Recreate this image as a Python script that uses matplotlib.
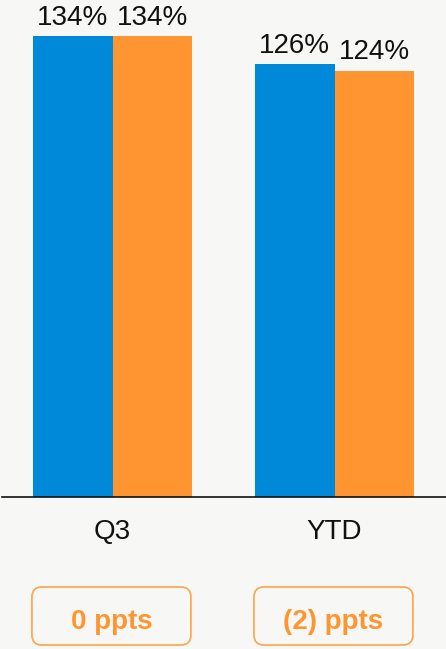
import matplotlib
matplotlib.use("Agg")
import matplotlib.pyplot as plt
from matplotlib.patches import FancyBboxPatch
from matplotlib.transforms import IdentityTransform

# Data
categories = ["Q3", "YTD"]
series_a = [134, 126]
series_b = [134, 124]
change_labels = ["0 ppts", "(2) ppts"]

BG = "#F7F7F5"
BLUE = "#0088D9"
ORANGE = "#FF9530"
EDGE = "#FFA347"

plt.rcParams["font.family"] = ["Liberation Sans", "DejaVu Sans"]

W, H = 446, 649
fig = plt.figure(figsize=(W / 100, H / 100), dpi=100, facecolor=BG)
ax = fig.add_axes([0, (H - 497) / H, 1, 497 / H], facecolor=BG)

bar_w = 0.358
x = list(range(len(categories)))
xa = [i - bar_w / 2 for i in x]
xb = [i + bar_w / 2 for i in x]
ax.bar(xa, series_a, width=bar_w, color=BLUE, linewidth=0)
ax.bar(xb, series_b, width=bar_w, color=ORANGE, linewidth=0)

ax.set_xlim(-0.5068, 1.502)
ax.set_ylim(0, 144.5)

for xs, vals in ((xa, series_a), (xb, series_b)):
    for xi, v in zip(xs, vals):
        ax.annotate(f"{v}%", (xi, v), xytext=(0, 8), textcoords="offset points",
                    ha="center", va="baseline", fontsize=20, color="#111111")

for s in ("top", "right", "left"):
    ax.spines[s].set_visible(False)
ax.spines["bottom"].set_linewidth(1.2)
ax.spines["bottom"].set_color("#111111")
ax.spines["bottom"].set_bounds(-0.498, 1.502)
ax.set_yticks([])
ax.set_xticks(x)
ax.set_xticklabels(categories, fontsize=20, color="#111111")
ax.tick_params(axis="x", length=0, pad=16)

# Change boxes below each group
fig.canvas.draw()
for i, lab in enumerate(change_labels):
    x0 = ax.transData.transform((i - bar_w - 0.005, 0))[0]
    x1 = ax.transData.transform((i + bar_w - 0.005, 0))[0]
    y0 = H - 645
    y1 = H - 587
    box = FancyBboxPatch((x0, y0), x1 - x0, y1 - y0,
                         boxstyle="round,pad=0,rounding_size=10",
                         transform=IdentityTransform(), facecolor="none",
                         edgecolor=EDGE, linewidth=1.2)
    fig.patches.append(box)
    fig.text((x0 + x1) / 2 / W, (H - 629) / H, lab, ha="center", va="baseline",
             fontsize=20, fontweight="bold", color=ORANGE)

fig.savefig("out.png", dpi=100, facecolor=BG)
